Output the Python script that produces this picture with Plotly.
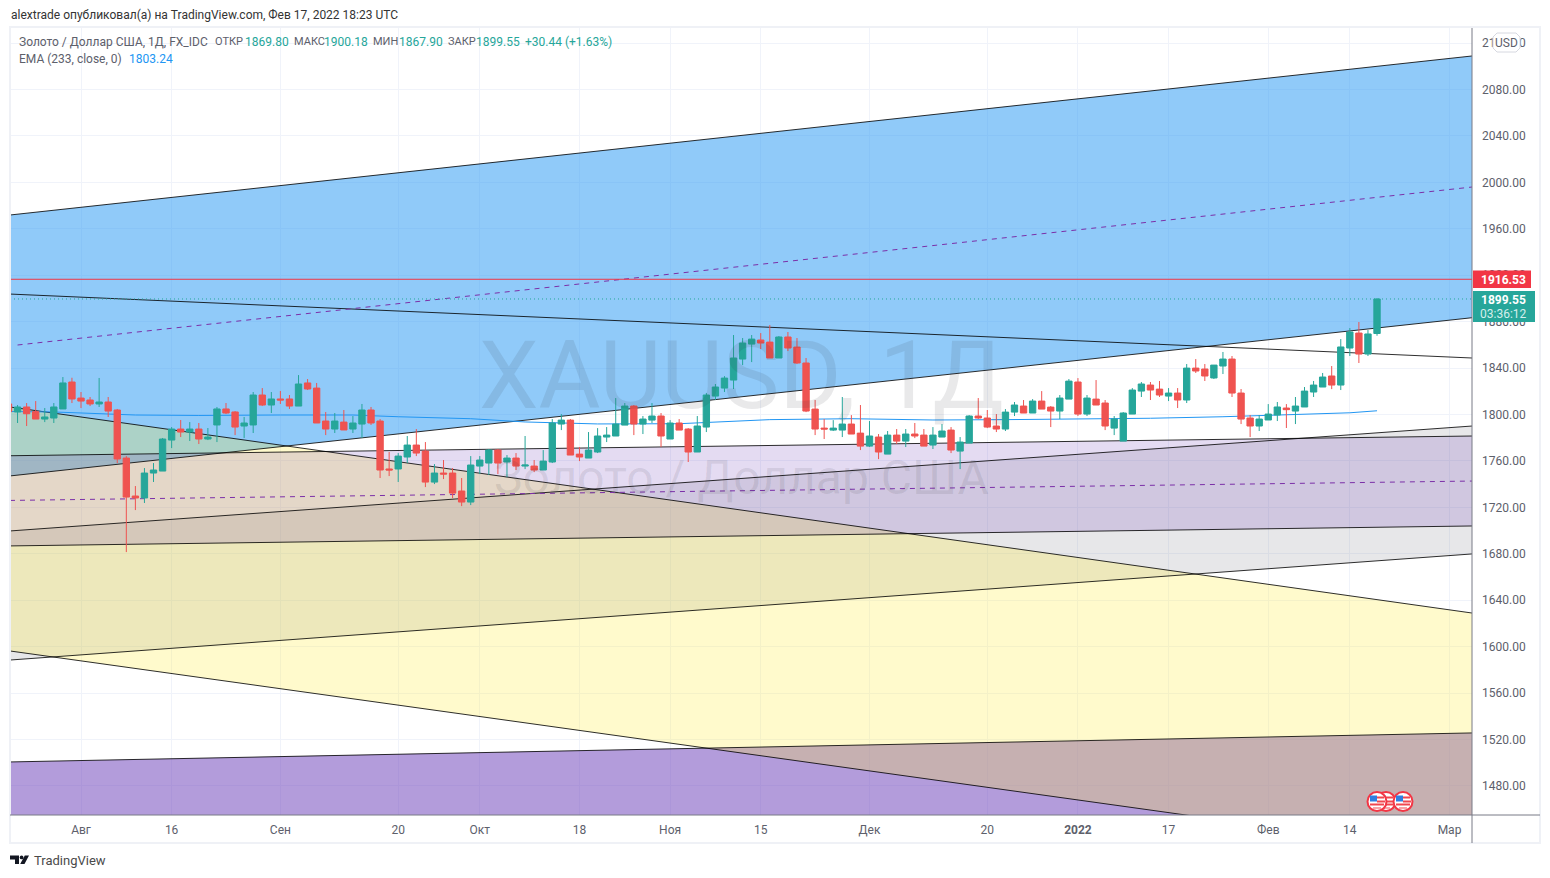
import plotly.graph_objects as go

# ---------- data ----------
bar_index = list(range(152))
opens = [1809.1,1802.2,1806.5,1802.5,1796.1,1797,1804.8,1828,1814.2,1812.5,1809.1,1810.8,1803.9,1762.5,1729.8,1728.1,1749.6,1751.3,1778,1787.5,
 1784.9,1787.5,1778.9,1791,1804.8,1802.2,1790.1,1791,1816.8,1808.2,1813.4,1813.4,1807.3,1827.2,1822.8,1794.4,1787.5,1793.5,1787.5,1791.8,
 1803.9,1794.4,1753.1,1753.1,1763.4,1773.7,1768.5,1741.8,1749.6,1749.6,1734.1,1724.6,1755.6,1758.2,1769.4,1759.1,1762.5,1755.6,1755.6,1752.2,
 1759.1,1791.8,1795.2,1765.9,1762.5,1767.7,1780.6,1781.5,1790.9,1807.3,1791.8,1795.2,1798.7,1778.9,1792.7,1787.5,1767.7,1789.2,1815.9,1822.8,
 1829.7,1847.8,1860.7,1864.2,1862.4,1848.7,1866.8,1858.1,1844.4,1804.7,1788.3,1786.6,1786.6,1791.8,1784,1772.8,1780.6,1765.9,1782.3,1777.1,
 1783.2,1782.3,1773.7,1780.6,1786.6,1768.5,1775.4,1798.7,1797,1790.1,1787.5,1802.1,1807.3,1801.3,1811.6,1806.4,1803,1813.3,1828,1800.4,
 1813.3,1809.9,1788.3,1777.1,1800.4,1820.2,1825.4,1821.9,1815.9,1818.5,1812.5,1840,1839.2,1831.5,1841.8,1847.8,1818.5,1797,1790.1,1795.3,
 1799.6,1805.6,1803,1806.5,1819.4,1823.7,1833.2,1825.4,1857.3,1870.2,1852.1,1869.8]
highs = [1810,1808.2,1809.9,1811.6,1805.6,1809.9,1832.3,1831.7,1819.4,1815.1,1831.5,1815.1,1804.8,1764.2,1738.4,1753.9,1758.2,1779.8,1789.2,1795.3,
 1793.5,1792.7,1788.4,1806.5,1809.9,1803,1797.9,1819.4,1822.8,1819.4,1820.3,1816.8,1834,1830.6,1827.2,1802.2,1801.3,1803.9,1798.7,1809.1,
 1806.5,1796.1,1767.7,1766.8,1781.5,1787.5,1776.3,1757.3,1760.8,1753.9,1745.3,1764.2,1764.2,1770.3,1770.3,1765.1,1766.8,1781.5,1760.8,1769.4,
 1796.1,1800.4,1796.1,1772,1784.9,1788.3,1789.2,1814.2,1809.9,1808.2,1798.7,1809.9,1801.3,1795.2,1796.1,1788.3,1798.7,1818.5,1826.3,1833.1,
 1868.5,1865.9,1868.5,1870.2,1877.1,1867.6,1871.1,1865.9,1848.7,1812.5,1796.1,1795.2,1815.1,1799.5,1808.2,1794.4,1783.2,1785.8,1787.5,1787.5,
 1792.7,1787.5,1789.2,1791.8,1789.2,1780.6,1799.5,1814.2,1803.9,1800.4,1804.7,1810.8,1812.5,1813.3,1820.2,1807.3,1816.8,1830.6,1831.4,1816.8,
 1829.7,1812.5,1798.7,1802.1,1822.8,1828,1828,1828.9,1822.8,1822.8,1843.5,1847.8,1843.5,1842.6,1853.9,1850.4,1822,1799.6,1799.6,1809,
 1810.8,1809,1815.1,1823.7,1828.9,1835.8,1841.8,1865,1874.5,1879.7,1872.8,1900.18]
lows = [1802,1792.7,1790.1,1796.1,1793.5,1792.7,1804.8,1809.9,1805.6,1807.3,1806.5,1797.9,1758.2,1681.5,1717.7,1723.8,1741.9,1751.3,1771.1,1780.6,
 1777.2,1774.6,1778,1776.3,1800.4,1782.3,1779.8,1784.1,1807.3,1801.3,1809.1,1804.8,1807.3,1821.1,1792.7,1782.3,1784.1,1786.7,1784.1,1779.8,
 1791,1745.3,1747,1741.9,1758.2,1764.2,1737.5,1740.1,1744.4,1728,1721.1,1722,1748.7,1747.9,1748.7,1746.1,1752.2,1753,1750.4,1752.2,
 1758.2,1786.6,1765.1,1759.9,1762.5,1766.8,1776.3,1781.5,1790.9,1782.3,1783.2,1792.7,1772,1778.9,1786.6,1759.1,1767.7,1784.9,1812.5,1819.4,
 1822,1842.6,1845.2,1856.4,1848.7,1848.7,1854.7,1843.5,1802.1,1782.3,1778.9,1785.8,1780.6,1783.2,1769.4,1772,1761.6,1765.9,1774.6,1772,
 1779.7,1772.8,1770.3,1780.6,1766.8,1753,1775.4,1796.1,1788.3,1784.9,1785.8,1798.7,1801.3,1801.3,1804.7,1789.2,1796.1,1813.3,1798.7,1798.7,
 1808.2,1786.6,1782.3,1777.1,1800.4,1815.1,1812.5,1815.1,1811.6,1805.6,1809.9,1835.8,1828.9,1830.6,1834.9,1815.1,1791.8,1780.6,1785.8,1795.3,
 1794.4,1788.4,1791.8,1806.5,1815.1,1823.7,1821.9,1821.1,1850.4,1844.4,1850.4,1867.9]
closes = [1802.5,1806.5,1800.7,1796.1,1797.9,1806.5,1827.2,1813.4,1811.6,1809.1,1810.8,1803,1761.7,1728.9,1728.1,1749.6,1752.2,1778.9,1787.5,1784.9,
 1787.5,1778.9,1780.6,1804.8,1801.3,1789.2,1792.7,1816.8,1808.2,1813.4,1812.5,1807.3,1826.3,1822,1792.7,1787.5,1794.4,1786.7,1792.7,1803.9,
 1792.7,1752.2,1752.2,1764.2,1773.7,1766.8,1741.8,1749.6,1748.7,1732.3,1724.6,1756.5,1760.8,1769.4,1758.2,1762.5,1755.6,1756.5,1752.2,1759.9,
 1792.7,1795.2,1765.1,1763.4,1769.4,1781.5,1782.3,1791.8,1807.3,1791.8,1796.1,1798.7,1781.5,1792.7,1786.6,1767.7,1790.1,1816.8,1823.7,1831.4,
 1848.7,1861.6,1865,1861.6,1848.7,1866.8,1857.3,1844.4,1803,1787.5,1787.5,1788.3,1791.8,1783.2,1772.8,1781.5,1767.7,1782.3,1777.1,1783.2,
 1781.5,1772.8,1782.3,1785.8,1769.4,1776.3,1798.7,1797,1789.2,1787.5,1802.1,1808.2,1801.3,1811.6,1804.7,1803,1814.2,1828.8,1800.4,1814.2,
 1808.2,1790.1,1796.1,1801.3,1821.1,1826.3,1821.1,1816.8,1818.5,1812.5,1840,1837.5,1833.2,1842.6,1847.8,1818.5,1796.1,1790.1,1796.1,1800.4,
 1806.5,1804.2,1807.3,1820.2,1825.4,1832.3,1825.4,1858.2,1871.1,1852.1,1869.4,1899.55]

ema_index = [0,5,14,21,30,38,43,51,57,65,74,84,93,102,110,126,134,141,148,151]
ema_values = [1802.6,1802.2,1799.6,1799.2,1799.6,1799.6,1798.1,1796.4,1793.6,1791.9,1792.1,1795.6,1796.4,1795.3,1795.6,1796.8,1798.1,1799.8,1801.5,1803.24]

# channel borders: price where each one meets the left and right edge of the pane
blue_top = [1971.9, 2108.9]
blue_bottom = [1747.1, 1883.4]
blue_median_x = [1.0, 161.48]
blue_median = [1859.9, 1996.0]
free_trend = [1903.8, 1848.7]
yellow_top = [1806.5, 1629.0]
yellow_bottom = [1596.3, 1420.6]
lav_top = [1764.5, 1781.5]
lav_bottom = [1686.8, 1704.0]
lav_median = [1726.0, 1742.7]
grey_top = [1699.7, 1790.1]
grey_bottom = [1588.5, 1679.9]
purple_top = [1500.7, 1525.7]
purple_floor = [1400.0, 1400.0]
level_red = 1916.53
level_last = 1899.55

x_tick_index = [8,18,30,43,52,63,73,83,95,108,118,128,139,148,159]
x_tick_text = ["Авг","16","Сен","20","Окт","18","Ноя","15","Дек","20","<b>2022</b>","17","Фев","14","Мар"]
y_ticks = [1480,1520,1560,1600,1640,1680,1720,1760,1800,1840,1880,1920,1960,2000,2040,2080,2120]

# ---------- page geometry ----------
# the page body adds 8 px around the figure, so the figure is 8 px smaller each way
PAGE = 8
W, H = 1550 - PAGE, 878 - PAGE
L, R, T, B = 10, 1472, 28, 815
x_edges = [0.1655, 161.48]
y_range = [1455.0, 2133.0]
UP, DOWN = "#26a69a", "#ef5350"
BLACK = "rgba(0,0,0,0.82)"
DASH = "5px,5px"

def px(x):
    return (x - L) / (R - L)

def py(y):
    return (B - y) / (B - T)

fig = go.Figure()

# Everything on the pane except the candles goes between the grid and the traces,
# so that the candles stay on top, through the axes' own scales.
shapes = []

def band(top, bottom, color):
    pts = list(zip(x_edges + x_edges[::-1], top + bottom[::-1]))
    d = "M " + " L ".join(f"{a},{b}" for a, b in pts) + " Z"
    shapes.append(dict(type="path", xref="x", yref="y", path=d, fillcolor=color,
                       line=dict(width=0), layer="between"))

def border(values, color=BLACK, dash="solid", x=None, width=1):
    xs = x or x_edges
    d = "M " + " L ".join(f"{a},{b}" for a, b in zip(xs, values))
    shapes.append(dict(type="path", xref="x", yref="y", path=d, fillcolor="rgba(0,0,0,0)",
                       line=dict(color=color, width=width, dash=dash), layer="between"))

band(purple_top, purple_floor, "rgba(103,58,183,0.5)")
band(grey_top, grey_bottom, "rgba(120,123,134,0.18)")
band(blue_top, blue_bottom, "rgba(33,150,243,0.5)")
band(yellow_top, yellow_bottom, "rgba(255,235,59,0.26)")
band(lav_top, lav_bottom, "rgba(103,58,183,0.18)")

for b in (blue_top, blue_bottom, free_trend, yellow_top, yellow_bottom, lav_top, lav_bottom,
          grey_top, grey_bottom, purple_top):
    border(b)
border(blue_median, color="#7b2fa8", dash=DASH, x=blue_median_x)
border(lav_median, color="#7b2fa8", dash=DASH)
border([level_red, level_red], color="#f23645")
border([level_last, level_last], color=UP, dash="1px,3px")
border(ema_values, color="#2196f3", x=ema_index)

fig.add_trace(go.Candlestick(x=bar_index, open=opens, high=highs, low=lows, close=closes,
                             increasing=dict(line=dict(color=UP, width=1), fillcolor=UP),
                             decreasing=dict(line=dict(color=DOWN, width=1), fillcolor=DOWN),
                             whiskerwidth=0, showlegend=False, hoverinfo="skip"))

def rect(x0, y0, x1, y1, fill=None, line=None, lw=1):
    shapes.append(dict(type="rect", xref="paper", yref="paper", x0=px(x0), x1=px(x1), y0=py(y0), y1=py(y1),
                       fillcolor=fill or "rgba(0,0,0,0)", line=dict(color=line or "rgba(0,0,0,0)", width=lw if line else 0)))

def seg(x0, y0, x1, y1, color, lw=1):
    shapes.append(dict(type="line", xref="paper", yref="paper", x0=px(x0), x1=px(x1), y0=py(y0), y1=py(y1),
                       line=dict(color=color, width=lw)))

def poly(points, fill):
    d = "M" + " L".join(f"{px(a):.5f},{py(b):.5f}" for a, b in points) + " Z"
    shapes.append(dict(type="path", xref="paper", yref="paper", path=d, fillcolor=fill, line=dict(width=0)))

def circle(cx, cy, r, fill, line, lw):
    shapes.append(dict(type="circle", xref="paper", yref="paper", x0=px(cx - r), x1=px(cx + r), y0=py(cy + r), y1=py(cy - r),
                       fillcolor=fill, line=dict(color=line, width=lw)))

# frame and scale lines
rect(10, 27, 1540, 843, line="#eff1f6", lw=2)
seg(1472, 28, 1472, 843, "#787b86")
seg(10, 815, 1540, 815, "#787b86")

# price labels on the scale
rect(1473, 270.5, 1531, 288, fill="#f23645")
rect(1473, 291, 1535, 322, fill=UP)

# USD badge
rx = 4
bx0, bx1, by0, by1 = 1493, 1520, 33, 52
poly([(bx0 + rx, by0), (bx1 - rx, by0), (bx1, by0 + rx), (bx1, by1 - rx), (bx1 - rx, by1), (bx0 + rx, by1),
      (bx0, by1 - rx), (bx0, by0 + rx)], "white")
outline = [(bx0 + rx, by0), (bx1 - rx, by0), (bx1, by0 + rx), (bx1, by1 - rx), (bx1 - rx, by1), (bx0 + rx, by1),
           (bx0, by1 - rx), (bx0, by0 + rx), (bx0 + rx, by0)]
for (a, b), (c, d) in zip(outline, outline[1:]):
    seg(a, b, c, d, "#d6d8e0")

# event flags
def flag(cx, cy):
    circle(cx, cy, 9.5, "white", "#f23645", 2)
    rect(cx - 7, cy - 6, cx, cy, fill="#2f7fe0")
    rect(cx, cy - 5, cx + 7, cy - 3, fill="#f0474f")
    rect(cx, cy - 1, cx + 8, cy + 1, fill="#f0474f")
    rect(cx - 7, cy + 2, cx + 7, cy + 4, fill="#f0474f")
    rect(cx - 4, cy + 6, cx + 4, cy + 7, fill="#f0474f")

flag(1386, 801.5)
flag(1403, 801.5)
flag(1377, 801.5)

# TradingView mark
poly([(10, 855.5), (19, 855.5), (19, 864), (15, 864), (15, 859.5), (10, 859.5)], "#131722")
circle(21.6, 857.4, 1.9, "#131722", "#131722", 0)
poly([(24.8, 855.5), (29, 855.5), (24.5, 864), (20.2, 864)], "#131722")

annotations = []

def text(x, y, s, color, size=12, anchor="left", family="Roboto"):
    annotations.append(dict(xref="paper", yref="paper", x=px(x), y=py(y), text=s, showarrow=False,
                            xanchor=anchor, yanchor="middle", borderpad=0,
                            font=dict(family=family, size=size, color=color)))

GREY = "#5d606b"
text(10, 15, "alextrade опубликовал(а) на TradingView.com, Фев 17, 2022 18:23 UTC", "#333333")
text(18, 42, "Золото / Доллар США, 1Д, FX_IDC", GREY)
text(214, 42, "ОТКР", GREY, size=11)
text(244, 42, "1869.80", UP)
text(293, 42, "МАКС", GREY, size=11)
text(323, 42, "1900.18", UP)
text(372, 42, "МИН", GREY, size=11)
text(398, 42, "1867.90", UP)
text(447, 42, "ЗАКР", GREY, size=11)
text(475, 42, "1899.55", UP)
text(524, 42, "+30.44 (+1.63%)", UP)
text(18, 59, "EMA (233, close, 0)", GREY)
text(128, 59, "1803.24", "#2196f3")
text(1506.5, 43, "USD", GREY, anchor="center")
text(1503, 280, "<b>1916.53</b>", "white", anchor="center")
text(1503, 300, "<b>1899.55</b>", "white", anchor="center")
text(1503, 314, "03:36:12", "#d5efec", anchor="center")
text(33, 860, "TradingView", "#4a4a4a", size=13)
text(741, 375, "XAUUSD, 1Д", "rgba(40,40,50,0.10)", size=95, anchor="center")
text(741, 477, "Золото / Доллар США", "rgba(40,40,50,0.10)", size=48, anchor="center")

grid = "#f0f3fa"
fig.update_layout(
    width=W, height=H, autosize=False,
    margin=dict(l=L - PAGE, r=1550 - R, t=T - PAGE, b=878 - B, pad=0),
    paper_bgcolor="white", plot_bgcolor="white", showlegend=False,
    shapes=shapes, annotations=annotations, boxgap=0.3, boxgroupgap=0,
    font=dict(family="Roboto", size=12, color="#5d606b"),
    xaxis=dict(range=x_edges, tickmode="array", tickvals=x_tick_index, ticktext=x_tick_text,
               showgrid=True, gridcolor=grid, gridwidth=1, zeroline=False, showline=False,
               ticks="", rangeslider=dict(visible=False), ticklabelstandoff=6,
               tickfont=dict(family="Roboto", size=12, color="#5d606b")),
    yaxis=dict(range=y_range, side="right", tickmode="array", tickvals=y_ticks,
               ticktext=[f"{v}.00" for v in y_ticks],
               showgrid=True, gridcolor=grid, gridwidth=1, zeroline=False, showline=False,
               ticks="", ticklabelstandoff=9,
               tickfont=dict(family="Roboto", size=12, color="#5d606b")),
)

fig.write_html("out.html")
